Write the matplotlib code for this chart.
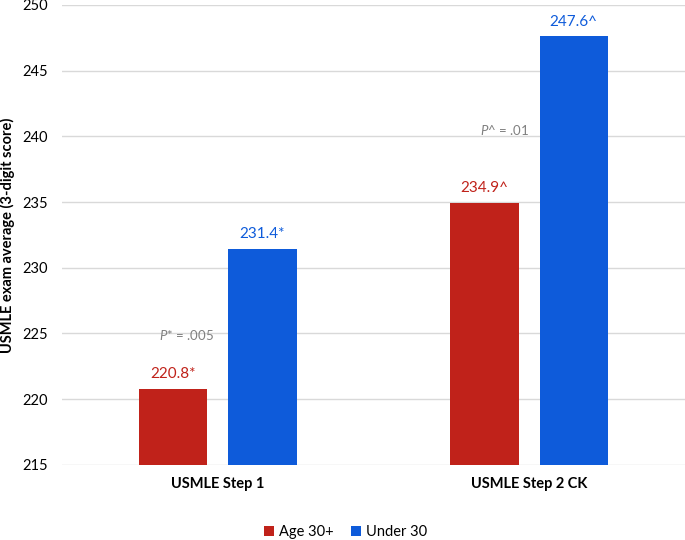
import numpy as np
import matplotlib
matplotlib.use('Agg')
import matplotlib.pyplot as plt

categories = ['USMLE Step 1', 'USMLE Step 2 CK']
series_names = ['Age 30+', 'Under 30']
age30_vals = [220.8, 234.9]
under30_vals = [231.4, 247.6]
age30_labels = ['220.8*', '234.9^']
under30_labels = ['231.4*', '247.6^']
p_texts = [r'$P$* = .005', r'$P$^ = .01']
p_pos = [(-0.10, 224.9), (0.92, 240.5)]

red = '#C0221A'
blue = '#0E5BDA'

plt.rcParams.update({'font.family': ['Lato', 'DejaVu Sans'], 'font.size': 10,
                     'mathtext.fontset': 'custom',
                     'mathtext.it': 'Lato:italic',
                     'mathtext.rm': 'Lato'})

fig = plt.figure(figsize=(6.85, 5.4), dpi=100)
ax = fig.add_axes([0.0905, 0.139, 0.9095, 0.852])

x = np.arange(len(categories))
w = 0.22
off = 0.143
b1 = ax.bar(x - off, age30_vals, w, color=red, label=series_names[0], zorder=2)
b2 = ax.bar(x + off, under30_vals, w, color=blue, label=series_names[1], zorder=2)

for rect, lab in zip(b1, age30_labels):
    ax.text(rect.get_x() + rect.get_width() / 2, rect.get_height() + 0.6, lab,
            ha='center', va='bottom', color=red, fontsize=11)
for rect, lab in zip(b2, under30_labels):
    ax.text(rect.get_x() + rect.get_width() / 2, rect.get_height() + 0.6, lab,
            ha='center', va='bottom', color=blue, fontsize=11)

for (px, py), t in zip(p_pos, p_texts):
    ax.text(px, py, t, ha='center', va='center', color='#808080',
            fontsize=9.5)

ax.set_ylim(215, 250)
ax.set_xlim(-0.5, 1.5)
ax.set_yticks(np.arange(215, 251, 5))
ax.set_xticks(x)
ax.set_xticklabels(categories, fontweight='bold', fontsize=10.5)
ax.tick_params(axis='both', length=0, colors='#000000')
ax.tick_params(axis='y', pad=10, labelsize=10.5)
ax.tick_params(axis='x', pad=9)
ax.grid(axis='y', color='#d9d9d9', linewidth=1, zorder=0)
for s in ax.spines.values():
    s.set_visible(False)

ax.set_ylabel('USMLE exam average (3-digit score)', fontweight='bold',
              fontsize=10.5)
ax.yaxis.set_label_coords(-0.0755, 0.5)

ax.legend(loc='lower center', bbox_to_anchor=(0.455, -0.19), ncol=2,
          frameon=False, handlelength=0.7, handleheight=0.7,
          handletextpad=0.3, columnspacing=1.2, fontsize=10.5)

fig.savefig('out.png', dpi=100)
